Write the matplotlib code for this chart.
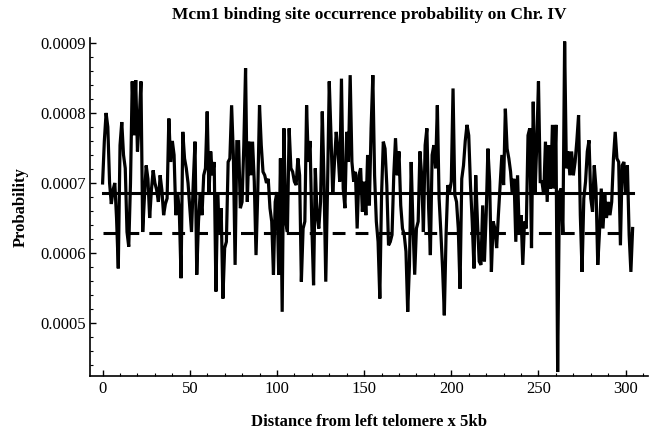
import numpy as np
import matplotlib
matplotlib.use("Agg")
import matplotlib.pyplot as plt
from matplotlib.ticker import MultipleLocator, FormatStrFormatter

# Probability values (x 1e-6) at distance index 0..304
prob_e6 = [
    700, 760, 800, 780, 700, 670, 690, 700, 650, 578,
    754, 787, 740, 721, 630, 609, 700, 845, 768, 847,
    745, 790, 845, 630, 680, 725, 706, 650, 690, 718,
    700, 690, 673, 711, 690, 654, 670, 678, 792, 730,
    760, 740, 654, 687, 660, 564, 773, 735, 721, 700,
    664, 630, 700, 759, 569, 645, 687, 654, 711, 721,
    802, 683, 745, 711, 730, 545, 683, 630, 664, 535,
    607, 616, 730, 735, 811, 740, 583, 759, 759, 664,
    673, 754, 864, 673, 759, 711, 759, 702, 597, 687,
    811, 754, 716, 711, 700, 706, 664, 645, 569, 673,
    687, 569, 735, 516, 778, 645, 630, 778, 721, 716,
    702, 697, 735, 711, 559, 635, 645, 811, 730, 760,
    640, 554, 721, 654, 635, 673, 802, 702, 559, 692,
    845, 768, 683, 730, 773, 745, 702, 849, 692, 664,
    773, 730, 854, 730, 702, 716, 635, 711, 721, 659,
    702, 654, 740, 668, 778, 854, 711, 645, 616, 535,
    683, 759, 749, 697, 611, 616, 626, 711, 764, 711,
    745, 668, 635, 626, 602, 516, 583, 730, 640, 569,
    635, 645, 745, 711, 630, 754, 778, 664, 597, 740,
    754, 721, 811, 678, 630, 578, 511, 626, 697, 687,
    702, 835, 683, 673, 635, 549, 706, 725, 760, 783,
    768, 697, 645, 578, 711, 645, 588, 583, 668, 588,
    654, 749, 702, 573, 645, 635, 607, 654, 697, 740,
    697, 806, 749, 735, 716, 683, 706, 616, 711, 626,
    654, 583, 645, 635, 768, 778, 607, 816, 683, 754,
    845, 702, 702, 683, 759, 673, 754, 692, 783, 692,
    783, 430, 687, 692, 626, 902, 721, 745, 711, 745,
    711, 730, 760, 797, 654, 573, 678, 702, 745, 761,
    678, 659, 725, 692, 583, 630, 692, 635, 683, 650,
    673, 654, 673, 735, 773, 735, 730, 611, 725, 730,
    683, 725, 626, 573, 635,
]
distance = np.arange(len(prob_e6))
probability = np.array(prob_e6) * 1e-6

solid_level = 0.000686
dashed_level = 0.000628

xticks = [0, 50, 100, 150, 200, 250, 300]
yticks = [0.0005, 0.0006, 0.0007, 0.0008, 0.0009]

plt.rcParams['font.family'] = ['Liberation Serif', 'DejaVu Serif']

fig = plt.figure(figsize=(6.55, 4.29), dpi=100)
ax = fig.add_axes([0.138, 0.1235, 0.851, 0.788])

ax.plot(distance, probability, color='black', lw=2.3, solid_joinstyle='miter')
ax.plot([distance[0], distance[-1]], [solid_level, solid_level], color='black', lw=2.2)
ax.plot([distance[0], distance[-1]], [dashed_level, dashed_level], color='black', lw=2.2,
        dashes=(4.2, 3.3))

ax.set_xlim(-7, 312.7)
ax.set_ylim(424.3e-6, 907.1e-6)

for s in ['top', 'right']:
    ax.spines[s].set_visible(False)
for s in ['left', 'bottom']:
    ax.spines[s].set_linewidth(1.2)

ax.set_xticks(xticks)
ax.set_yticks(yticks)
ax.yaxis.set_major_formatter(FormatStrFormatter('%.4f'))
ax.xaxis.set_minor_locator(MultipleLocator(10))
ax.yaxis.set_minor_locator(MultipleLocator(0.00002))
ax.tick_params(which='major', direction='in', length=4, width=1, labelsize=12)
ax.tick_params(which='minor', direction='in', length=2.5, width=0.8)

ax.set_title('Mcm1 binding site occurrence probability on Chr. IV',
             fontsize=12.5, fontweight='bold', pad=14)
ax.set_xlabel('Distance from left telomere x 5kb', fontsize=12, fontweight='bold', labelpad=12)
ax.set_ylabel('Probability', fontsize=12, fontweight='bold', labelpad=8)

fig.savefig('out.png', dpi=100)
